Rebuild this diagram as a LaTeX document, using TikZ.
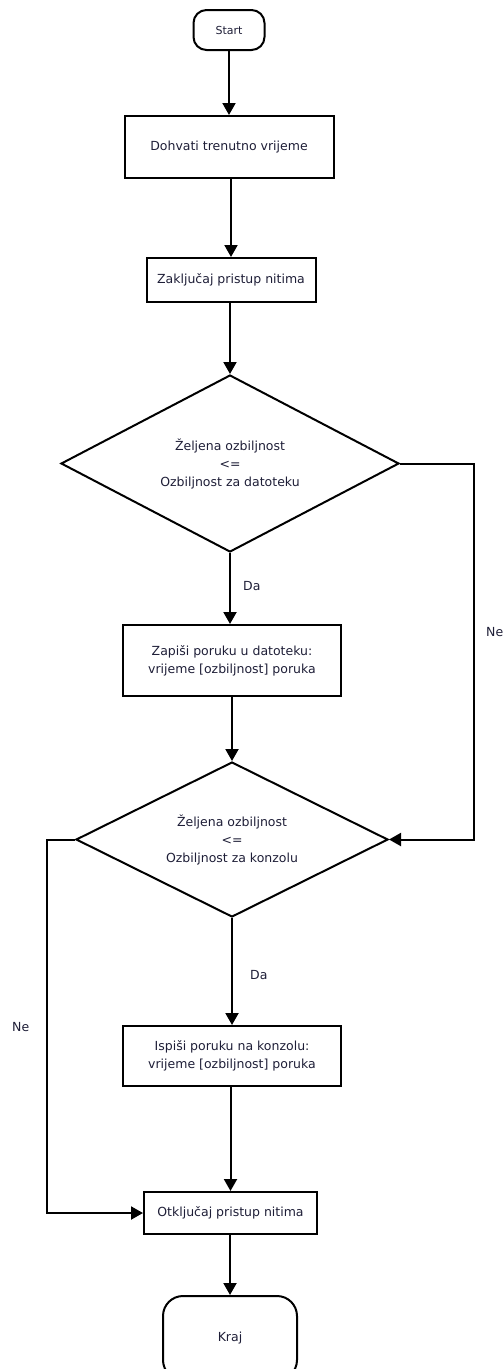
\documentclass[tikz,border=0pt]{standalone}
\usepackage{fontspec}
\setmainfont{DejaVu Sans}
\usetikzlibrary{shapes.geometric,arrows.meta}
\definecolor{txt}{RGB}{30,30,55}
\begin{document}
\begin{tikzpicture}[x=1pt,y=-1pt,
  every node/.style={font=\fontsize{12.5}{18}\selectfont, text=txt},
  box/.style={draw, line width=2pt, rectangle, inner sep=0pt, align=center},
  term/.style={draw, line width=2pt, rectangle, inner sep=0pt},
  dec/.style={draw, line width=2pt, diamond, inner sep=0pt, align=center},
  conn/.style={line width=2pt, -{Triangle[length=12pt,width=13pt]}},
  plain/.style={line width=2pt},
  lab/.style={inner sep=0pt, anchor=west}]
\useasboundingbox (0,0) rectangle (503,1369);
\clip (0,0) rectangle (503,1369);
\node[term, rounded corners=13pt, minimum width=71pt, minimum height=40pt, font=\fontsize{11}{13}\selectfont] (start) at (229,30) {Start};
\node[box, minimum width=209pt, minimum height=62pt] (b1) at (229,147) {Dohvati trenutno vrijeme};
\node[box, minimum width=169pt, minimum height=44pt] (b2) at (231,280) {Zaključaj pristup nitima};
\node[dec, shape aspect=1.9, minimum width=338pt, minimum height=177pt] (d1) at (230,463.5) {Željena ozbiljnost\\<=\\Ozbiljnost za datoteku};
\node[box, minimum width=218pt, minimum height=71pt] (b3) at (232,660.5) {Zapiši poruku u datoteku:\\vrijeme [ozbiljnost] poruka};
\node[dec, shape aspect=2, minimum width=312pt, minimum height=155pt] (d2) at (232,839.5) {Željena ozbiljnost\\<=\\Ozbiljnost za konzolu};
\node[box, minimum width=218pt, minimum height=60pt] (b4) at (232,1056) {Ispiši poruku na konzolu:\\vrijeme [ozbiljnost] poruka};
\node[box, minimum width=173pt, minimum height=42pt] (b5) at (230.5,1213) {Otključaj pristup nitima};
\node[term, rounded corners=20pt, minimum width=134pt, minimum height=84pt] (kraj) at (230,1338) {Kraj};
\coordinate (r1) at (474,463.5);
\coordinate (r2) at (474,839.5);
\coordinate (l1) at (47,839.5);
\coordinate (l2) at (47,1213);
\draw[conn] (start.south) -- (start.south |- b1.north);
\draw[conn] (b1.south -| b2.north) -- (b2.north);
\draw[conn] (b2.south -| d1.north) -- (d1.north);
\draw[conn] (d1.south) -- (d1.south |- b3.north);
\draw[conn] (b3.south) -- (d2.north);
\draw[conn] (d2.south) -- (b4.north);
\draw[conn] (b4.south -| b5.north) -- (b5.north);
\draw[conn] (b5.south -| kraj.north) -- (kraj.north);
\draw[conn] (d1.east) -- (r1) -- (r2) -- (d2.east);
\draw[conn] (d2.west) -- (l1) -- (l2) -- (b5.west);
\node[lab] (da1) at (243,586) {Da};
\node[lab] (ne1) at (486,632) {Ne};
\node[lab] (da2) at (250,975) {Da};
\node[lab] (ne2) at (12,1027) {Ne};
\end{tikzpicture}
\end{document}
